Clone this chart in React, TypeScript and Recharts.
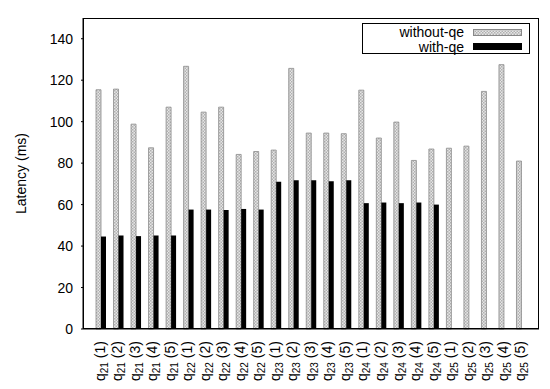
import React from "react";
import {
  BarChart,
  Bar,
  XAxis,
  YAxis,
} from "recharts";

const queries = ["21", "22", "23", "24", "25"];
const runs = ["1", "2", "3", "4", "5"];

const withoutQe = [
  115.4, 115.7, 98.8, 87.4, 107.0,
  126.7, 104.6, 107.0, 84.2, 85.6,
  86.3, 125.7, 94.5, 94.5, 94.2,
  115.2, 92.1, 99.8, 81.3, 86.8,
  87.2, 88.2, 114.6, 127.5, 81.0,
];

const withQe = [
  44.6, 45.1, 44.8, 45.1, 45.1,
  57.6, 57.6, 57.4, 57.9, 57.6,
  71.0, 71.8, 71.8, 71.3, 71.8,
  60.7, 61.0, 60.7, 61.0, 60.0,
  null, null, null, null, null,
];

const yTicks = [0, 20, 40, 60, 80, 100, 120, 140];

const data = queries.flatMap((q, qi) =>
  runs.map((r, ri) => ({
    q,
    r,
    name: `q${q}(${r})`,
    without: withoutQe[qi * 5 + ri],
    with: withQe[qi * 5 + ri],
  }))
);

const FONT = "'Liberation Sans', Arial, Helvetica, sans-serif";

function QTick(props: any) {
  const { x, y, payload } = props;
  const item = data.find((d) => d.name === payload.value);
  const q = item ? item.q : "";
  const r = item ? item.r : "";
  return (
    <text
      transform={`translate(${x - 1},${y + 4}) rotate(-90)`}
      textAnchor="end"
      dy="0.35em"
      fontFamily={FONT}
      fontSize={14}
      fill="#000"
    >
      q
      <tspan fontSize={10} dy={3}>
        {q}
      </tspan>
      <tspan dy={-3} dx={4}>
        ({r})
      </tspan>
    </text>
  );
}

function Swatch({ solid }: { solid: boolean }) {
  return (
    <svg width={49} height={7} style={{ display: "block" }}>
      <defs>
        <pattern id="xhatchLeg" width="3" height="3" patternUnits="userSpaceOnUse">
          <rect width="3" height="3" fill="#e6e6e6" />
          <rect width="1.5" height="1.5" fill="#b0b0b0" />
          <rect x="1.5" y="1.5" width="1.5" height="1.5" fill="#b0b0b0" />
        </pattern>
      </defs>
      <rect
        x={0.5}
        y={0.5}
        width={48}
        height={6}
        fill={solid ? "#000" : "url(#xhatchLeg)"}
        stroke={solid ? "#000" : "#888"}
        strokeWidth={1}
      />
    </svg>
  );
}

function LegendBox() {
  const rows = [
    { label: "without-qe", solid: false },
    { label: "with-qe", solid: true },
  ];
  return (
    <div
      style={{
        position: "absolute",
        left: 362,
        top: 23,
        width: 168,
        height: 31,
        border: "1px solid #000",
        background: "#fff",
        boxSizing: "border-box",
        fontFamily: FONT,
        fontSize: 14,
      }}
    >
      {rows.map((row, i) => (
        <div
          key={row.label}
          style={{
            position: "absolute",
            right: 7,
            top: 1 + i * 14.5,
            display: "flex",
            alignItems: "center",
            height: 14,
            lineHeight: "14px",
          }}
        >
          <span style={{ marginRight: 9 }}>{row.label}</span>
          <Swatch solid={row.solid} />
        </div>
      ))}
    </div>
  );
}

export default function App() {
  return (
    <div style={{ position: "absolute", left: 0, top: 0, width: 550, height: 389, background: "#fff" }}>
      <BarChart
        width={550}
        height={389}
        data={data}
        margin={{ top: 18, right: 11, bottom: 10, left: 0 }}
        barGap={0}
        barSize={5}
      >
        <defs>
          <pattern id="xhatch" width="3" height="3" patternUnits="userSpaceOnUse">
            <rect width="3" height="3" fill="#e6e6e6" />
            <rect width="1.5" height="1.5" fill="#b0b0b0" />
            <rect x="1.5" y="1.5" width="1.5" height="1.5" fill="#b0b0b0" />
          </pattern>
        </defs>
        <XAxis
          dataKey="name"
          interval={0}
          height={50}
          padding={{ left: 9, right: 9 }}
          tickLine={false}
          axisLine={{ stroke: "#000", strokeWidth: 1 }}
          tick={<QTick />}
        />
        <YAxis
          width={83}
          domain={[0, 150]}
          ticks={yTicks}
          interval={0}
          tickSize={2}
          tickMargin={8}
          axisLine={{ stroke: "#000", strokeWidth: 1 }}
          tickLine={{ stroke: "#000" }}
          tick={{ fill: "#000", fontFamily: FONT, fontSize: 14 }}
          label={{
            value: "Latency (ms)",
            angle: -90,
            position: "insideLeft",
            offset: 21,
            style: { fill: "#000", fontFamily: FONT, fontSize: 14, textAnchor: "middle" },
          }}
        />
        <YAxis
          yAxisId="leftIn"
          orientation="left"
          width={0}
          domain={[0, 150]}
          ticks={yTicks}
          interval={0}
          mirror
          tickSize={5}
          tick={false}
          axisLine={false}
          tickLine={{ stroke: "#000" }}
        />
        <YAxis
          yAxisId="right"
          orientation="right"
          width={0}
          domain={[0, 150]}
          ticks={yTicks}
          interval={0}
          mirror
          tickSize={5}
          tick={false}
          axisLine={{ stroke: "#000", strokeWidth: 1 }}
          tickLine={{ stroke: "#000" }}
        />
        <Bar
          dataKey="without"
          name="without-qe"
          fill="url(#xhatch)"
          stroke="#8a8a8a"
          strokeWidth={0.8}
          isAnimationActive={false}
        />
        <Bar
          dataKey="with"
          name="with-qe"
          fill="#000"
          isAnimationActive={false}
        />
      </BarChart>
      <div
        style={{
          position: "absolute",
          left: 83,
          top: 18,
          width: 456,
          height: 311,
          border: "1px solid #000",
          boxSizing: "border-box",
          pointerEvents: "none",
        }}
      />
      <LegendBox />
    </div>
  );
}
